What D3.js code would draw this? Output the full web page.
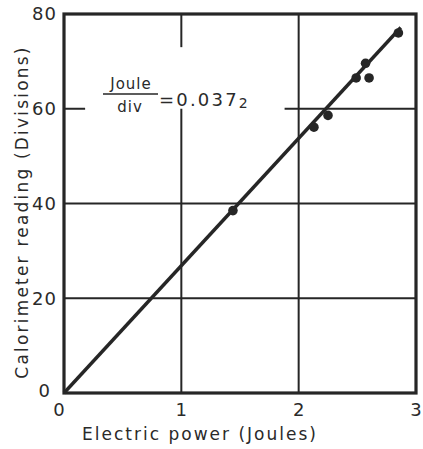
<!DOCTYPE html>
<html>
<head>
<meta charset="utf-8">
<script src="https://cdn.jsdelivr.net/npm/d3@7"></script>
<style>
  body { margin: 0; background: #fff; }
  text { font-family: "DejaVu Sans", sans-serif; fill: #2a2a2a; }
</style>
</head>
<body>
<svg id="vis" width="423" height="449"></svg>
<script>
// data
const pointsX = [1.44, 2.13, 2.25, 2.49, 2.60, 2.57, 2.85];
const pointsY = [38.5, 56.1, 58.6, 66.5, 66.5, 69.6, 76.0];
const joulePerDiv = 0.0372;
const fitEndX = 2.87;
const xTicks = [0, 1, 2, 3];
const yTicks = [0, 20, 40, 60, 80];
const gridX = [1, 2];
const gridY = [20, 40, 60];

const INK = "#262626";
const svg = d3.select("#vis");
const xscale = d3.scaleLinear().domain([0, 3]).range([64, 416]);
const yscale = d3.scaleLinear().domain([0, 80]).range([393, 14]);

svg.append("rect").attr("width", 423).attr("height", 449).attr("fill", "#fff");

// grid lines, with the gap left around the annotation
function gridSegsX(v) {
    if (v === 1) return [[80, 73], [60, 0]];
    return [[80, 0]];
}
function gridSegsY(v) {
    if (v === 60) return [[0, 0.18], [1.88, 3]];
    return [[0, 3]];
}
gridX.forEach(v => {
    gridSegsX(v).forEach(s => {
        svg.append("line")
            .attr("x1", xscale(v)).attr("x2", xscale(v))
            .attr("y1", yscale(s[0])).attr("y2", yscale(s[1]))
            .attr("stroke", INK).attr("stroke-width", 2);
    });
});
gridY.forEach(v => {
    gridSegsY(v).forEach(s => {
        svg.append("line")
            .attr("x1", xscale(s[0])).attr("x2", xscale(s[1]))
            .attr("y1", yscale(v)).attr("y2", yscale(v))
            .attr("stroke", INK).attr("stroke-width", 2);
    });
});

// frame
svg.append("rect")
    .attr("x", xscale(0)).attr("y", yscale(80))
    .attr("width", xscale(3) - xscale(0)).attr("height", yscale(0) - yscale(80))
    .attr("fill", "none").attr("stroke", INK).attr("stroke-width", 3.2);

// axes (labels only)
const xAxis = svg.append("g")
    .attr("transform", `translate(0,${yscale(0)})`)
    .call(d3.axisBottom(xscale).tickValues(xTicks).tickSize(0).tickPadding(10).tickFormat(d3.format("d")));
const yAxis = svg.append("g")
    .attr("transform", `translate(${xscale(0)},0)`)
    .call(d3.axisLeft(yscale).tickValues(yTicks).tickSize(0).tickPadding(7).tickFormat(d3.format("d")));
[xAxis, yAxis].forEach(a => {
    a.select(".domain").remove();
    a.selectAll("text").attr("font-size", 18).attr("fill", "#2a2a2a")
        .attr("letter-spacing", 1)
        .style("font-family", "DejaVu Sans, sans-serif");
});
xAxis.selectAll(".tick").filter(d => d === 0).select("text").attr("dx", -5);
yAxis.selectAll(".tick").filter(d => d === 0).select("text").attr("dx", -6).attr("dy", "0.2em");

// fit line
const line = d3.line().x(d => xscale(d[0])).y(d => yscale(d[1]));
svg.append("path")
    .datum([[0, 0], [fitEndX, fitEndX / joulePerDiv]])
    .attr("d", line)
    .attr("stroke", INK).attr("stroke-width", 3.4).attr("fill", "none");

// measured points
svg.selectAll(".points").data(pointsX.map((x, i) => ({x: x, y: pointsY[i]})))
    .join("circle")
    .attr("class", "points")
    .attr("cx", d => xscale(d.x))
    .attr("cy", d => yscale(d.y))
    .attr("r", 4.8)
    .attr("fill", INK);

// annotation: Joule / div = 0.0372
const ann = svg.append("g");
ann.append("text").attr("x", 131).attr("y", 89).attr("text-anchor", "middle")
    .attr("font-size", 15).attr("letter-spacing", 1).text("Joule");
ann.append("line").attr("x1", 103).attr("x2", 158).attr("y1", 94).attr("y2", 94)
    .attr("stroke", INK).attr("stroke-width", 1.6);
ann.append("text").attr("x", 130).attr("y", 112).attr("text-anchor", "middle")
    .attr("font-size", 15).attr("letter-spacing", 1).text("div");
const eq = ann.append("text").attr("x", 159).attr("y", 106).attr("font-size", 18)
    .attr("letter-spacing", 2.2);
eq.append("tspan").text("=0.037");
eq.append("tspan").attr("font-size", 14).attr("dy", 2).text("2");

// axis titles
svg.append("text").attr("x", 200).attr("y", 440).attr("text-anchor", "middle")
    .attr("font-size", 17).attr("letter-spacing", 2).text("Electric power (Joules)");
svg.append("text")
    .attr("transform", "translate(28,212) rotate(-90)")
    .attr("text-anchor", "middle")
    .attr("font-size", 17).attr("letter-spacing", 2.2).text("Calorimeter reading (Divisions)");
</script>
</body>
</html>
